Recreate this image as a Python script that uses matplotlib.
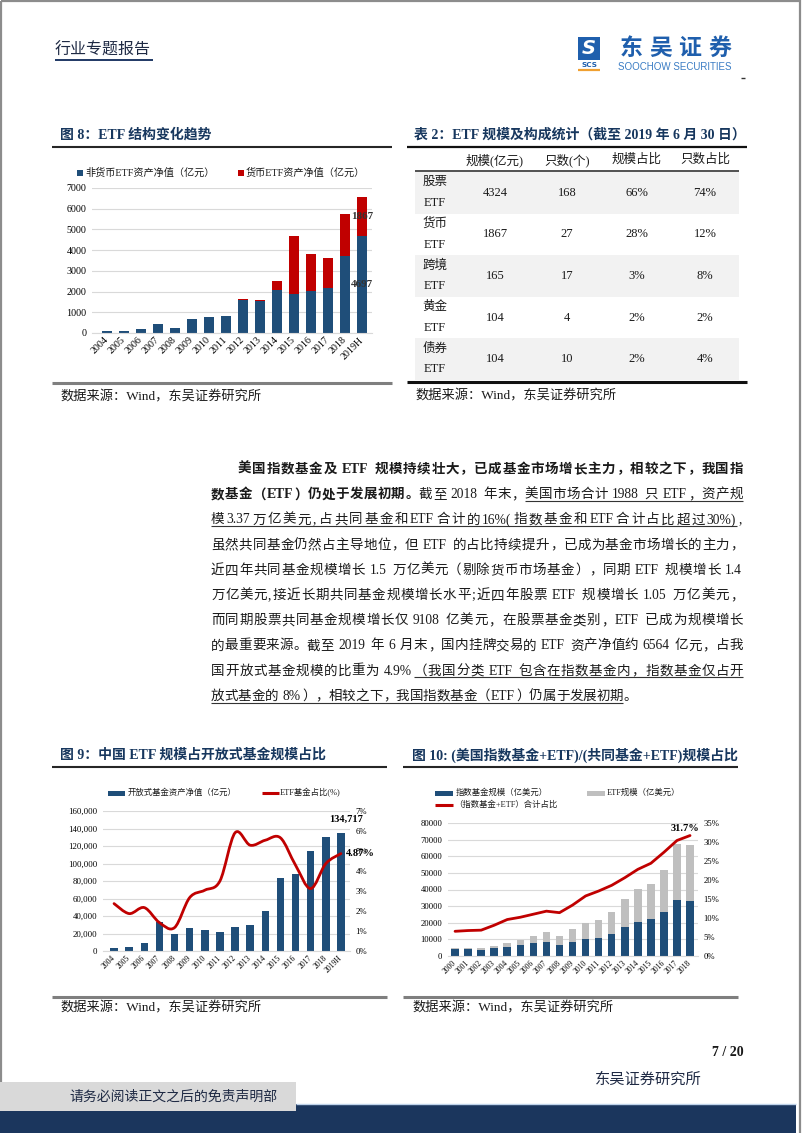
"""Page 7 of the Soochow Securities ETF report: three charts, a table and body text."""
import matplotlib

matplotlib.use("Agg")
import matplotlib.pyplot as plt
import numpy as np
from matplotlib.font_manager import FontProperties
from matplotlib.patches import PathPatch, Rectangle
from matplotlib.path import Path

W, H = 802, 1133
SERIF = ["Liberation Serif", "Noto Sans CJK SC"]
plt.rcParams["font.family"] = SERIF

NAVY = "#17375E"
BLUE = "#1F4E79"
RED = "#C00000"
GREY_BAR = "#BFBFBF"
GRID = "#D9D9D9"
TEXT = "#1A1A1A"

# --- figure 8: ETF structure (亿元) ---
years8 = ["2004", "2005", "2006", "2007", "2008", "2009", "2010", "2011",
          "2012", "2013", "2014", "2015", "2016", "2017", "2018", "2019H"]
non_money = [80, 80, 170, 430, 240, 680, 760, 800,
             1610, 1530, 2090, 1880, 2010, 2170, 3735, 4697]
money = [0, 0, 0, 0, 0, 0, 0, 0, 50, 80, 430, 2790, 1800, 1450, 2000, 1867]

# --- table 2 ---
table_header = ["规模(亿元)", "只数(个)", "规模占比", "只数占比"]
table_kind = [("股票", "ETF"), ("货币", "ETF"), ("跨境", "ETF"), ("黄金", "ETF"), ("债券", "ETF")]
table_size = ["4324", "1867", "165", "104", "104"]
table_count = ["168", "27", "17", "4", "10"]
table_size_pct = ["66%", "28%", "3%", "2%", "2%"]
table_count_pct = ["74%", "12%", "8%", "2%", "4%"]

# --- figure 9: open-end fund size and ETF share ---
years9 = years8
open_fund = [3000, 5000, 8800, 33200, 19800, 26700, 24400, 21400,
             27500, 30200, 45800, 83200, 88500, 114500, 130200, 134717]
etf_share = [2.37, 1.87, 2.17, 1.42, 1.17, 2.67, 3.04, 3.50,
             5.91, 5.29, 5.54, 5.66, 4.29, 3.12, 4.37, 4.87]

# --- figure 10: US index funds + ETF ---
years10 = [str(y) for y in range(2000, 2019)]
index_fund = [4100, 4000, 3600, 4800, 5600, 6500, 7800, 8600, 6700, 8700,
              10200, 11000, 13200, 17300, 20600, 22400, 26400, 33500, 33000]
etf_size = [700, 900, 1000, 1500, 2300, 3000, 4200, 6100, 5300, 7800,
            9900, 10500, 13100, 16700, 19700, 21000, 25200, 34000, 33900]
combined_share = [6.5, 6.7, 6.8, 8.1, 9.6, 10.2, 11.0, 11.8, 11.4, 13.4,
                  15.8, 17.1, 18.6, 20.6, 22.8, 24.4, 27.3, 30.4, 31.7]

# --- body paragraph: (text, style) runs; b=bold, n=normal, u=underlined ---
body = [
    [("美国指数基金及 ETF 规模持续壮大，已成基金市场增长主力，相较之下，我国指", "b")],
    [("数基金（ETF）仍处于发展初期。", "b"), ("截至 2018 年末，", "n"),
     ("美国市场合计 1988 只 ETF，资产规", "u")],
    [("模3.37万亿美元,占共同基金和ETF合计的16%(指数基金和ETF合计占比超过30%)", "u"), (",", "n")],
    [("虽然共同基金仍然占主导地位，但 ETF 的占比持续提升，已成为基金市场增长的主力，", "n")],
    [("近四年共同基金规模增长 1.5 万亿美元（剔除货币市场基金），同期 ETF 规模增长 1.4", "n")],
    [("万亿美元,接近长期共同基金规模增长水平;近四年股票 ETF 规模增长 1.05 万亿美元，", "n")],
    [("而同期股票共同基金规模增长仅 9108 亿美元，在股票基金类别，ETF 已成为规模增长", "n")],
    [("的最重要来源。截至 2019 年 6 月末，国内挂牌交易的 ETF 资产净值约 6564 亿元，占我", "n")],
    [("国开放式基金规模的比重为 4.9%", "n"), ("（我国分类 ETF 包含在指数基金内，指数基金仅占开", "u")],
    [("放式基金的 8%），相较之下，我国指数基金（ETF）仍属于发展初期", "u"), ("。", "n")],
]

fig = plt.figure(figsize=(W / 100, H / 100), dpi=100)
page = fig.add_axes([0, 0, 1, 1])
page.set_xlim(0, W)
page.set_ylim(H, 0)
page.set_axis_off()


def px_axes(x0, y0, x1, y1):
    ax = fig.add_axes([x0 / W, 1 - y1 / H, (x1 - x0) / W, (y1 - y0) / H])
    ax.set_facecolor("none")
    return ax


def hline(y, x0, x1, lw=1.0, color="#262626"):
    page.plot([x0, x1], [y, y], color=color, lw=lw, solid_capstyle="butt")


def put(x, y, s, size, **kw):
    kw.setdefault("va", "center")
    kw.setdefault("color", TEXT)
    page.text(x, y, s, fontsize=size, **kw)


def box(x, y, w, h, color):
    page.add_patch(Rectangle((x, y), w, h, facecolor=color, edgecolor="none"))


def style_axes(ax, labels, xsize, ysize):
    for side in ("top", "right", "left"):
        ax.spines[side].set_visible(False)
    ax.spines["bottom"].set_color(GRID)
    ax.grid(axis="y", color=GRID, lw=0.8)
    ax.set_axisbelow(True)
    ax.tick_params(length=0, pad=4, labelsize=ysize)
    ax.set_xticks(np.arange(len(labels)), labels, rotation=45, ha="right",
                  va="center", rotation_mode="anchor", fontsize=xsize)
    ax.tick_params(axis="x", pad=4)


def smooth_path(xs, ys):
    # Catmull-Rom through the data points, like Excel's smoothed line
    verts, codes = [(xs[0], ys[0])], [Path.MOVETO]
    n = len(xs)
    for i in range(n - 1):
        p0 = (xs[max(i - 1, 0)], ys[max(i - 1, 0)])
        p1 = (xs[i], ys[i])
        p2 = (xs[i + 1], ys[i + 1])
        p3 = (xs[min(i + 2, n - 1)], ys[min(i + 2, n - 1)])
        c1 = (p1[0] + (p2[0] - p0[0]) / 6, p1[1] + (p2[1] - p0[1]) / 6)
        c2 = (p2[0] - (p3[0] - p1[0]) / 6, p2[1] - (p3[1] - p1[1]) / 6)
        verts += [c1, c2, p2]
        codes += [Path.CURVE4] * 3
    return Path(verts, codes)


# ---------------- page frame, header, footer ----------------
page.add_patch(Rectangle((0.8, 0.8), 799.5, 1140, fill=False, edgecolor="#8C8C8C", lw=1.6))
put(55, 51, "行业专题报告", 11.5, color="#1F2A44")
hline(60, 55, 153, lw=1.4, color="#1F3864")

box(578, 37, 22, 23, "#1F5FAD")
put(589, 48.5, "S", 14, color="white", ha="center", fontweight="bold",
    family=["DejaVu Sans"], style="italic")
put(589, 65, "SCS", 5.2, color="#1F5FAD", ha="center", fontweight="bold", family=["DejaVu Sans"])
hline(69.5, 578, 600, lw=1.6, color="#F0A030")
for i, ch in enumerate("东吴证券"):
    put(631 + 29.5 * i, 48, ch, 16.5, color="#1F5FAD", ha="center",
        fontweight="bold", family=["Noto Sans CJK SC"])
put(675, 67.5, "SOOCHOW SECURITIES", 7, color="#3A7CC4", ha="center", family=["Liberation Sans"])
hline(77.5, 741, 745, lw=1.0, color="#333333")

put(744, 1053, "7 / 20", 10, ha="right", fontweight="bold")
put(648, 1080, "东吴证券研究所", 11, ha="center", color="#1F2A44")
box(0, 1104, 796, 29, "#1B365D")
hline(1104, 296, 796, lw=1.0, color="#BFD3EA")
box(0, 1082, 296, 29, "#D9D9D9")
put(174, 1097, "请务必阅读正文之后的免责声明部", 10, ha="center", color="#1F2A44")

# ---------------- section frames ----------------
SRC = "数据来源：Wind，东吴证券研究所"
put(60, 135, "图 8：ETF 结构变化趋势", 10, color=NAVY, fontweight="bold")
hline(147, 52, 392, lw=1.5)
hline(383, 52, 392, lw=2.2, color="#7F7F7F")
put(60, 397, SRC, 9.5)

put(414, 135, "表 2：ETF 规模及构成统计（截至 2019 年 6 月 30 日）", 10, color=NAVY, fontweight="bold")
put(415, 396, SRC, 9.5)

put(60, 755, "图 9：中国 ETF 规模占开放式基金规模占比", 10, color=NAVY, fontweight="bold")
hline(767, 52, 387, lw=1.5)
hline(997, 52, 387, lw=2.2, color="#7F7F7F")
put(60, 1008, SRC, 9.5)

put(412, 755, "图 10: (美国指数基金+ETF)/(共同基金+ETF)规模占比", 10, color=NAVY, fontweight="bold")
hline(767, 403, 738, lw=1.5)
hline(997, 403, 738, lw=2.2, color="#7F7F7F")
put(412, 1008, SRC, 9.5)

# ---------------- figure 8 ----------------
box(77, 170, 6, 6, BLUE)
put(85, 173, "非货币ETF资产净值（亿元）", 7.3)
box(238, 170, 6, 6, RED)
put(246, 173, "货币ETF资产净值（亿元）", 7.3)

ax8 = px_axes(92, 188, 372, 333)
x8 = np.arange(len(years8))
ax8.bar(x8, non_money, 0.55, color=BLUE)
ax8.bar(x8, money, 0.55, bottom=non_money, color=RED)
ax8.set_ylim(0, 7000)
ax8.set_xlim(-0.88, 15.59)
ax8.set_yticks(range(0, 7001, 1000))
style_axes(ax8, years8, 7.2, 7.2)
ax8.text(x8[-1], non_money[-1] / 2, f"{non_money[-1]}", ha="center", va="center",
         fontsize=8, fontweight="bold", color="#333333")
ax8.text(x8[-1], non_money[-1] + money[-1] / 2, f"{money[-1]}", ha="center", va="center",
         fontsize=8, fontweight="bold", color="#333333")

# ---------------- table 2 ----------------
hline(147, 407, 747, lw=1.6, color="#111111")
col_x = [495, 567, 637, 705]
for cx, head in zip(col_x, table_header):
    put(cx, 160, head, 9, ha="center")
hline(171, 415, 739, lw=1.2, color="#333333")
row_h = 41.6
for i, (kind, cells) in enumerate(zip(table_kind, zip(table_size, table_count,
                                                       table_size_pct, table_count_pct))):
    top = 172 + i * row_h
    if i % 2 == 0:
        box(415, top, 324, row_h, "#F2F2F2")
    put(435, top + 10, kind[0], 9, ha="center")
    put(435, top + 31, kind[1], 9, ha="center")
    for cx, val in zip(col_x, cells):
        put(cx, top + row_h / 2, val, 9, ha="center")
hline(382, 407, 747, lw=2.2, color="#111111")

# ---------------- body paragraph (justified) ----------------
EM = 13.5
FS = EM * 72 / 100
renderer = fig.canvas.get_renderer()
PROPS = {w: FontProperties(family=SERIF, size=FS, weight=w) for w in ("normal", "bold")}


def tokens(text):
    out, buf = [], ""
    for ch in text:
        if ch == " " or ord(ch) > 127:
            if buf:
                out.append(buf)
                buf = ""
            out.append(ch)
        else:
            buf += ch
    if buf:
        out.append(buf)
    return out


def body_line(y, runs, x0, x1=743, justify=True):
    items = [(tok, style) for text, style in runs for tok in tokens(text)]
    widths = []
    for tok, style in items:
        weight = "bold" if style == "b" else "normal"
        if tok == " ":
            widths.append(0.28 * EM)
        elif ord(tok[0]) > 127:
            widths.append(EM)
        else:
            w, _, _ = renderer.get_text_width_height_descent(tok, PROPS[weight], ismath=False)
            widths.append(w + 1)
    gap = (x1 - x0 - sum(widths)) / (len(items) - 1) if justify else 0.0
    base = y + 5
    x = x0
    ul_start = ul_end = None
    for (tok, style), w in zip(items, widths):
        weight = "bold" if style == "b" else "normal"
        if tok != " ":
            if ord(tok[0]) > 127:
                if tok in "，。、；：）":
                    tx, ha = x + 0.5, "left"
                elif tok == "（":
                    tx, ha = x + w - 0.5, "right"
                else:
                    tx, ha = x + w / 2, "center"
            else:
                tx, ha = x, "left"
            page.text(tx, base, tok, fontproperties=PROPS[weight], ha=ha,
                      va="baseline", color=TEXT)
        if style == "u":
            if ul_start is None:
                ul_start = x
            ul_end = x + w
        elif ul_start is not None:
            hline(base + 2.8, ul_start, ul_end, lw=0.8, color="#333333")
            ul_start = None
        x += w + gap
    if ul_start is not None:
        hline(base + 2.8, ul_start, ul_end, lw=0.8, color="#333333")


for i, runs in enumerate(body):
    y = 468 + 25.2 * i
    start = 211 + 2 * EM if i == 0 else 211
    body_line(y, runs, start, justify=i < len(body) - 1)

# ---------------- figure 9 ----------------
box(108, 790.5, 17, 5, BLUE)
put(128, 793, "开放式基金资产净值（亿元）", 6)
hline(793, 262, 279, lw=2.2, color=RED)
put(280, 793, "ETF基金占比(%)", 6)

ax9 = px_axes(103, 811, 350, 951)
x9 = np.arange(len(years9))
ax9.bar(x9, open_fund, 0.5, color=BLUE)
ax9.set_ylim(0, 160000)
ax9.set_xlim(-0.73, 15.6)
ax9.set_yticks(range(0, 160001, 20000), [f"{v:,}" for v in range(0, 160001, 20000)])
style_axes(ax9, years9, 5.5, 6.3)
ax9.annotate(f"{open_fund[-1]:,}", (x9[-1], open_fund[-1]), xytext=(5, 9),
             textcoords="offset pixels", ha="center", va="bottom",
             fontsize=7.5, fontweight="bold")
ax9r = ax9.twinx()
ax9r.set_ylim(0, 7)
ax9r.set_yticks(range(0, 8), [f"{v}%" for v in range(0, 8)])
for side in ax9r.spines.values():
    side.set_visible(False)
ax9r.tick_params(length=0, pad=4, labelsize=6.3)
ax9r.add_patch(PathPatch(smooth_path(x9, etf_share), fill=False, edgecolor=RED,
                         lw=2.0, capstyle="round", joinstyle="round"))
ax9r.annotate(f"{etf_share[-1]:.2f}%", (x9[-1], etf_share[-1]), xytext=(5, 0),
              textcoords="offset pixels", ha="left", va="center",
              fontsize=7.5, fontweight="bold")

# ---------------- figure 10 ----------------
box(435, 790.5, 18, 5, BLUE)
put(456, 793, "指数基金规模（亿美元）", 6)
box(587, 790.5, 18, 5, GREY_BAR)
put(607, 793, "ETF规模（亿美元）", 6)
hline(805, 435, 453, lw=2.2, color=RED)
put(454, 805, "（指数基金+ETF）合计占比", 6)

ax10 = px_axes(448, 823, 698, 956)
x10 = np.arange(len(years10))
ax10.bar(x10, index_fund, 0.58, color=BLUE)
ax10.bar(x10, etf_size, 0.58, bottom=index_fund, color=GREY_BAR)
ax10.set_ylim(0, 80000)
ax10.set_xlim(-0.54, 18.61)
ax10.set_yticks(range(0, 80001, 10000))
style_axes(ax10, years10, 5.5, 6.2)
ax10r = ax10.twinx()
ax10r.set_ylim(0, 35)
ax10r.set_yticks(range(0, 36, 5), [f"{v}%" for v in range(0, 36, 5)])
for side in ax10r.spines.values():
    side.set_visible(False)
ax10r.tick_params(length=0, pad=4, labelsize=6.2)
ax10r.plot(x10, combined_share, color=RED, lw=2.0, solid_capstyle="round")
ax10r.annotate(f"{combined_share[-1]}%", (x10[-1], combined_share[-1]), xytext=(-5, 3),
               textcoords="offset pixels", ha="center", va="bottom",
               fontsize=7.5, fontweight="bold")

fig.savefig("out.png", dpi=100)
